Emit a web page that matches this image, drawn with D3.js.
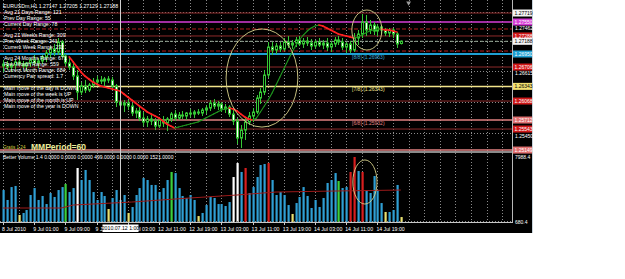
<!DOCTYPE html>
<html>
<head>
<meta charset="utf-8">
<script src="https://cdn.jsdelivr.net/npm/d3@7"></script>
<style>
body { margin: 0; background: #fff; }
svg { display: block; }
text { font-family: "Liberation Sans", Arial, sans-serif; }
</style>
</head>
<body>
<script>
// ---- data (EURUSDm, H1) ----
const opens = [1.26725,1.26762,1.26706,1.26744,1.26800,1.26762,1.26725,1.26781,1.26837,1.26781,
  1.26819,1.26894,1.26969,1.27044,1.26988,1.27175,1.26912,1.26781,1.26706,1.26537,
  1.26237,1.26350,1.26275,1.26368,1.26425,1.26462,1.26443,1.26481,1.26462,1.26350,
  1.26050,1.25993,1.26031,1.25974,1.25843,1.25881,1.25749,1.25674,1.25731,1.25693,
  1.25599,1.25712,1.25656,1.25731,1.25824,1.25749,1.25806,1.25787,1.25843,1.25824,
  1.25862,1.25843,1.25899,1.25937,1.26031,1.25974,1.26012,1.25918,1.25956,1.25824,
  1.25693,1.25374,1.25524,1.25674,1.25787,1.25862,1.26125,1.26237,1.26556,1.27081,
  1.27025,1.27100,1.27044,1.27175,1.27119,1.27156,1.27213,1.27138,1.27194,1.27156,
  1.27100,1.27175,1.27119,1.27156,1.27081,1.27138,1.27213,1.27175,1.27081,1.27138,
  1.27025,1.27250,1.27325,1.27550,1.27400,1.27494,1.27381,1.27457,1.27400,1.27344,
  1.27400,1.27325,1.27147]
const highs = [1.26837,1.26819,1.26800,1.26837,1.26856,1.26819,1.26800,1.26875,1.26931,1.26875,
  1.26931,1.27025,1.27100,1.27138,1.27250,1.27213,1.26950,1.26875,1.26781,1.26650,
  1.26425,1.26462,1.26406,1.26500,1.26537,1.26537,1.26519,1.26537,1.26519,1.26387,
  1.26162,1.26087,1.26087,1.26031,1.25937,1.25956,1.25862,1.25787,1.25806,1.25749,
  1.25749,1.25787,1.25768,1.25862,1.25899,1.25862,1.25881,1.25862,1.25918,1.25899,
  1.25918,1.25937,1.25993,1.26087,1.26106,1.26068,1.26050,1.26012,1.25993,1.25937,
  1.25749,1.25618,1.25749,1.25862,1.25937,1.26181,1.26312,1.26650,1.27175,1.27175,
  1.27156,1.27175,1.27250,1.27288,1.27213,1.27269,1.27288,1.27250,1.27269,1.27231,
  1.27213,1.27250,1.27213,1.27250,1.27194,1.27269,1.27288,1.27250,1.27175,1.27194,
  1.27344,1.27400,1.27700,1.27682,1.27588,1.27550,1.27513,1.27494,1.27438,1.27438,
  1.27438,1.27363,1.27205]
const lows = [1.26612,1.26650,1.26612,1.26669,1.26725,1.26687,1.26631,1.26706,1.26725,1.26687,
  1.26762,1.26800,1.26875,1.26912,1.26931,1.26875,1.26725,1.26650,1.26462,1.26087,
  1.26181,1.26218,1.26237,1.26312,1.26350,1.26387,1.26350,1.26406,1.26275,1.25956,
  1.25937,1.25862,1.25899,1.25787,1.25749,1.25693,1.25599,1.25581,1.25618,1.25524,
  1.25562,1.25581,1.25505,1.25674,1.25693,1.25712,1.25731,1.25712,1.25768,1.25749,
  1.25806,1.25787,1.25824,1.25881,1.25918,1.25899,1.25862,1.25843,1.25768,1.25618,
  1.25262,1.25187,1.25337,1.25618,1.25674,1.25824,1.26012,1.26181,1.26500,1.26931,
  1.26950,1.26988,1.27006,1.27063,1.27044,1.27081,1.27100,1.27063,1.27100,1.27025,
  1.27044,1.27081,1.27044,1.27006,1.26988,1.27081,1.27119,1.27025,1.26969,1.26969,
  1.26988,1.27119,1.27250,1.27288,1.27325,1.27306,1.27288,1.27325,1.27288,1.27269,
  1.27250,1.27063,1.27129]
const closes = [1.26762,1.26706,1.26744,1.26800,1.26762,1.26725,1.26781,1.26837,1.26781,1.26819,
  1.26894,1.26969,1.27044,1.26988,1.27175,1.26912,1.26781,1.26706,1.26537,1.26237,
  1.26350,1.26275,1.26368,1.26425,1.26462,1.26443,1.26481,1.26462,1.26350,1.26050,
  1.25993,1.26031,1.25974,1.25843,1.25881,1.25749,1.25674,1.25731,1.25693,1.25599,
  1.25712,1.25656,1.25731,1.25824,1.25749,1.25806,1.25787,1.25843,1.25824,1.25862,
  1.25843,1.25899,1.25937,1.26031,1.25974,1.26012,1.25918,1.25956,1.25824,1.25693,
  1.25374,1.25524,1.25674,1.25787,1.25862,1.26125,1.26237,1.26556,1.27081,1.27025,
  1.27100,1.27044,1.27175,1.27119,1.27156,1.27213,1.27138,1.27194,1.27156,1.27100,
  1.27175,1.27119,1.27156,1.27081,1.27138,1.27213,1.27175,1.27081,1.27138,1.27025,
  1.27250,1.27325,1.27550,1.27400,1.27494,1.27381,1.27457,1.27400,1.27344,1.27400,
  1.27325,1.27138,1.27188]

// moving average, starts at bar 17
const maStart = 17
const maValues = [1.26894,1.26800,1.26706,1.26612,1.26537,1.26481,1.26425,1.26387,1.26350,1.26331,
  1.26312,1.26293,1.26275,1.26256,1.26200,1.26143,1.26087,1.26031,1.25974,1.25918,
  1.25862,1.25824,1.25787,1.25749,1.25693,1.25637,1.25599,1.25562,1.25581,1.25599,
  1.25618,1.25637,1.25656,1.25674,1.25712,1.25749,1.25787,1.25824,1.25862,1.25899,
  1.25918,1.25937,1.25918,1.25881,1.25824,1.25768,1.25731,1.25712,1.25749,1.25862,
  1.25974,1.26087,1.26218,1.26368,1.26519,1.26669,1.26819,1.26969,1.27100,1.27213,
  1.27306,1.27381,1.27438,1.27475,1.27494,1.27475,1.27438,1.27400,1.27363,1.27325,
  1.27306,1.27288,1.27269,1.27250,1.27269,1.27306,1.27344,1.27381,1.27400,1.27419,
  1.27419,1.27400,1.27400,1.27381,1.27363]

// Better Volume
const volumes = [4220,3120,4550,4670,1460,1680,2010,3670,4440,3120,
  3560,2670,3890,3450,4220,4550,4890,4000,4440,6660,
  5330,6440,5330,4000,3120,4000,3560,2120,3340,4220,
  3120,3670,1680,2340,3670,4440,5550,5330,4780,4780,
  4000,4440,5330,6220,6100,4440,3560,3340,3670,3120,
  1340,1680,2560,3450,3340,2670,2670,2450,2890,5660,
  7210,6220,6660,3890,4550,5660,6990,7100,7210,5330,
  3670,4000,3670,2560,1570,2780,3450,4550,3560,2230,
  3120,2340,3340,5000,5330,6100,5220,4440,4550,6220,
  7880,6330,6220,4220,3890,5770,4220,2780,1790,1790,
  2010,4780,1230]
const lowVolBars = [4, 27, 32, 50, 74, 98, 102]
const climaxUpBars = [62, 68, 89, 90, 92]
const climaxDownBars = [19, 59, 60]
const churnBars = [16, 43, 86]
const volAvgBars = [0, 15, 18, 33, 48, 60, 70, 85, 102]
const volAvgValues = [2230, 2230, 2560, 2890, 3340, 3670, 4000, 4110, 4220]
const volMax = 7988.4
const volMin = 680.4

// time axis
const timeTickBars = [0, 8, 16, 24, 32, 40, 48, 56, 64, 72, 80, 88, 96]
const timeLabels = ['8 Jul 2010', '9 Jul 01:00', '9 Jul 09:00', '9 Jul 17:00', '12 Jul 03:00', '12 Jul 11:00',
  '12 Jul 19:00', '13 Jul 03:00', '13 Jul 11:00', '13 Jul 19:00', '14 Jul 03:00', '14 Jul 11:00', '14 Jul 19:00']
const crossBar = 30
const crossLabel = '2010.07.12 1:00'

// price axis
const priceTicks = [1.27719, 1.27168, 1.26615, 1.26035, 1.25450]
const extraPriceText = 1.27462

// horizontal levels
const levelPrices = [1.27719, 1.27550, 1.27419, 1.27288, 1.27188, 1.27006, 1.26950, 1.26706, 1.26343, 1.26068, 1.25712, 1.25543, 1.25149]
const levelKinds = ['top', 'mag', 'rdash', 'dr', 'bid', 'rdash', 'cyan', 'dr', 'yel', 'dr', 'pink', 'dr', 'pink']
const murreyNames = ['[8/8] (1.26953)', '[7/8] (1.26343)', '[6/8] (1.25932)']
const murreyPrices = [1.26950, 1.26343, 1.25712]

// info panel
const header = 'EURUSDm,H1  1.27147 1.27205 1.27129 1.27188'
const infoGroups = [
  ['Avg 21 Days Range: 121', 'Prev Day Range: 55', 'Current Day Range: 78'],
  ['Avg 21 Weeks Range: 309', 'Prev Week Range: 241', 'Current Week Range: 232'],
  ['Avg 24 Months Range: 671', 'Prev Month Range: 559', 'Current Month Range: 684', 'Currency Pair spread: 1.7'],
  ['Main move of the day is DOWN', 'Main move of the week is UP', 'Main move of the month is UP', 'Main move of the year is DOWN']
]
const volTitle = 'Better Volume 1.4 0.0000 0.0000 0.0000 499.0000 0.0000 0.0000 1521.0000'

// hand drawn ellipses: [centre bar, centre value, half width in bars, half height in value]
const priceEllipses = [[66.4, 1.26500, 9.2, 0.0092], [93.3, 1.27400, 3.85, 0.00375]]
const volEllipses = [[92.8, 5110, 3.1, 2440]]

// ---- layout ----
const w = 625
const h = 279
const blackW = 532
const blackH = 233
const plotR = 512
const mainB = 151
const volT = 153
const volB = 222

const svg = d3.select('body')
    .append('svg')
    .attr('width', w)
    .attr('height', h)

svg.append('rect').attr('width', blackW).attr('height', blackH).attr('fill', '#000')
svg.append('line').attr('x1', blackW + 0.5).attr('x2', blackW + 0.5).attr('y1', 0).attr('y2', blackH)
    .attr('stroke', '#c8d4dc')

const x = d3.scaleLinear().domain([0, 130]).range([3, 510])
const y = d3.scaleLinear().domain([1.27719, 1.25450]).range([13, 134])
const yv = d3.scaleLinear().domain([volMin, volMax]).range([volB, 156])
const px = i => Math.round(x(i)) + 0.5

svg.append('clipPath').attr('id', 'mainClip').append('rect')
    .attr('x', 0).attr('y', 0).attr('width', plotR).attr('height', mainB)
svg.append('clipPath').attr('id', 'volClip').append('rect')
    .attr('x', 0).attr('y', volT).attr('width', plotR).attr('height', volB - volT)

const main = svg.append('g').attr('clip-path', 'url(#mainClip)')
const vol = svg.append('g').attr('clip-path', 'url(#volClip)')

// grid
const gridBars = d3.range(0, 131, 4)
main.selectAll('.vg').data(gridBars).enter().append('line')
    .attr('x1', d => px(d)).attr('x2', d => px(d)).attr('y1', 0).attr('y2', mainB)
    .attr('stroke', '#8a8a8a').attr('stroke-dasharray', '1,2')
vol.selectAll('.vg').data(gridBars).enter().append('line')
    .attr('x1', d => px(d)).attr('x2', d => px(d)).attr('y1', volT).attr('y2', volB)
    .attr('stroke', '#8a8a8a').attr('stroke-dasharray', '1,2')
main.selectAll('.hg').data(priceTicks).enter().append('line')
    .attr('x1', 0).attr('x2', plotR).attr('y1', d => Math.round(y(d)) - 0.5).attr('y2', d => Math.round(y(d)) - 0.5)
    .attr('stroke', '#8a8a8a').attr('stroke-dasharray', '1,2')

// level lines
const levelStyle = {
  top: { c: '#8e2a2a', wd: 1, dash: null },
  dr: { c: '#8e2a2a', wd: 1, dash: null },
  mag: { c: '#d63cd6', wd: 1.6, dash: null },
  rdash: { c: '#b01e1e', wd: 1, dash: '4,2' },
  bid: { c: '#9aae9a', wd: 1, dash: '3,2' },
  cyan: { c: '#1e9fd2', wd: 2, dash: null },
  yel: { c: '#f2e48a', wd: 1.5, dash: null },
  pink: { c: '#e08080', wd: 1.5, dash: null }
}
main.selectAll('.lvl').data(levelPrices).enter().append('line')
    .attr('x1', 0).attr('x2', plotR)
    .attr('y1', d => y(d)).attr('y2', d => y(d))
    .attr('stroke', (d, i) => levelStyle[levelKinds[i]].c)
    .attr('stroke-width', (d, i) => levelStyle[levelKinds[i]].wd)
    .attr('stroke-dasharray', (d, i) => levelStyle[levelKinds[i]].dash)

// murrey labels
const murreyColors = ['#3aa8d8', '#f2e48a', '#e08080']
main.selectAll('.mm').data(murreyPrices).enter().append('text')
    .attr('x', x(89.5)).attr('y', d => y(d) + 4.5)
    .attr('font-size', 5).attr('fill', (d, i) => murreyColors[i])
    .text((d, i) => murreyNames[i])

// candles
const bars = d3.range(closes.length)
const green = '#36c836'
main.selectAll('.wick').data(bars).enter().append('line')
    .attr('x1', i => px(i)).attr('x2', i => px(i))
    .attr('y1', i => y(highs[i])).attr('y2', i => y(lows[i]))
    .attr('stroke', green)
main.selectAll('.body').data(bars).enter().append('rect')
    .attr('x', i => px(i) - 1).attr('width', 2)
    .attr('y', i => y(Math.max(opens[i], closes[i])))
    .attr('height', i => Math.max(0.6, Math.abs(y(opens[i]) - y(closes[i]))))
    .attr('fill', i => closes[i] >= opens[i] ? '#000' : '#fff')
    .attr('stroke', green).attr('stroke-width', 1)

// moving average coloured by slope
let prevUp = false
const maSegs = []
for (let k = 1; k < maValues.length; k++) {
  const a = maValues[k - 1], b = maValues[k]
  const up = b > a ? true : b < a ? false : prevUp
  prevUp = up
  maSegs.push({ i: maStart + k - 1, a: a, b: b, up: up })
}
main.selectAll('.ma').data(maSegs).enter().append('line')
    .attr('x1', d => x(d.i)).attr('x2', d => x(d.i + 1))
    .attr('y1', d => y(d.a)).attr('y2', d => y(d.b))
    .attr('stroke', d => d.up ? '#1f9a1f' : '#ff2222')
    .attr('stroke-width', d => d.up ? 1.1 : 1.7)
    .attr('stroke-linecap', 'round')

// ellipses
main.selectAll('.el').data(priceEllipses).enter().append('ellipse')
    .attr('cx', d => x(d[0])).attr('cy', d => y(d[1]))
    .attr('rx', d => x(d[2]) - x(0)).attr('ry', d => y(d[1] - d[3]) - y(d[1]))
    .attr('fill', 'none').attr('stroke', '#d9d38c').attr('stroke-width', 0.9)

// info text
const info = svg.append('g').attr('fill', '#fff').attr('font-size', 5.2)
info.append('text').attr('x', 3).attr('y', 8).text(header)
const groupTop = [12, 34.5, 58, 88]
infoGroups.forEach((g, gi) => {
  info.selectAll('.g' + gi).data(g).enter().append('text')
      .attr('x', 4).attr('y', (d, i) => groupTop[gi] + 2 + i * 6).text(d => d)
})
svg.append('text').attr('x', 3).attr('y', 148.5).attr('font-size', 4.6).attr('fill', '#d8d040').text('Gratis 1.24')
svg.append('text').attr('x', 31).attr('y', 149.5).attr('font-size', 8.5).attr('font-weight', 'bold')
    .attr('font-family', '"Liberation Mono", "DejaVu Sans Mono", monospace')
    .attr('fill', '#ecec9a').text('MMPeriod=60')

// panel separator
svg.append('line').attr('x1', 0).attr('x2', plotR).attr('y1', 152).attr('y2', 152)
    .attr('stroke', '#b8b8b8').attr('stroke-width', 1.6)

// volume bars
const volColor = i => lowVolBars.includes(i) ? '#e8e070'
    : climaxUpBars.includes(i) ? '#d81e1e'
    : climaxDownBars.includes(i) ? '#ffffff'
    : churnBars.includes(i) ? '#3ccf3c' : '#2f9fd4'
vol.selectAll('.vb').data(bars).enter().append('rect')
    .attr('x', i => Math.round(x(i)) - 0.5).attr('width', 2.2)
    .attr('y', i => yv(volumes[i])).attr('height', i => volB - yv(volumes[i]))
    .attr('fill', i => volColor(i))
vol.append('path')
    .datum(volAvgBars)
    .attr('d', d3.line().x(b => x(b)).y((b, k) => yv(volAvgValues[k])))
    .attr('fill', 'none').attr('stroke', '#9c1a1a').attr('stroke-width', 1)
vol.selectAll('.ve').data(volEllipses).enter().append('ellipse')
    .attr('cx', d => x(d[0])).attr('cy', d => yv(d[1]))
    .attr('rx', d => x(d[2]) - x(0)).attr('ry', d => yv(d[1]) - yv(d[1] + d[3]))
    .attr('fill', 'none').attr('stroke', '#d9d38c').attr('stroke-width', 0.9)
vol.append('line').attr('x1', 0).attr('x2', plotR).attr('y1', volB - 0.5).attr('y2', volB - 0.5)
    .attr('stroke', '#8a8a8a').attr('stroke-dasharray', '1,2')
svg.append('text').attr('x', 3).attr('y', 159).attr('font-size', 5).attr('fill', '#fff').text(volTitle)

// crosshair
svg.append('line').attr('x1', px(crossBar)).attr('x2', px(crossBar)).attr('y1', 0).attr('y2', volB)
    .attr('stroke', '#d0d0d0')

// shift marker
svg.append('path')
    .attr('d', d3.symbol().type(d3.symbolTriangle).size(10))
    .attr('transform', `translate(${x(closes.length + 1)},3) rotate(180)`)
    .attr('fill', '#9a9a9a')

// chart frame
svg.append('line').attr('x1', plotR + 0.5).attr('x2', plotR + 0.5).attr('y1', 0).attr('y2', volB)
    .attr('stroke', '#b8b8b8')
svg.append('line').attr('x1', 0).attr('x2', plotR + 1).attr('y1', volB + 0.5).attr('y2', volB + 0.5)
    .attr('stroke', '#c8c8c8')

// time axis
const axisG = svg.append('g')
axisG.selectAll('.tk').data(timeTickBars).enter().append('line')
    .attr('x1', d => px(d)).attr('x2', d => px(d)).attr('y1', volB).attr('y2', volB + 3)
    .attr('stroke', '#c8c8c8')
axisG.selectAll('.tl').data(timeTickBars).enter().append('text')
    .attr('x', d => x(d) - 1).attr('y', 230.5)
    .attr('font-size', 5.2).attr('fill', '#fff')
    .text((d, i) => timeLabels[i])
axisG.append('rect').attr('x', px(crossBar) - 18).attr('y', 224.5).attr('width', 36).attr('height', 7.5)
    .attr('fill', '#fff')
axisG.append('text').attr('x', px(crossBar)).attr('y', 230.3).attr('text-anchor', 'middle')
    .attr('font-size', 5.2).attr('fill', '#000').text(crossLabel)

// right price scale
const fmt = d3.format('.5f')
const scaleG = svg.append('g').attr('font-size', 5)
const boxFill = { top: '#f4f4f4', dr: '#d01818', mag: '#d63cd6', bid: '#f4f4f4', cyan: '#1e9fd2', yel: '#f2e070', pink: '#e07070' }
const boxText = { top: '#000', bid: '#000', yel: '#000' }
const boxed = levelPrices.map((p, i) => ({ p: p, k: levelKinds[i] }))
    .filter(d => d.k !== 'rdash')
// tick texts that would sit under a level box are left to the box
const tickTexts = priceTicks.concat([extraPriceText])
    .filter(t => !boxed.some(b => Math.abs(y(b.p) - y(t)) < 3))
scaleG.selectAll('.pt').data(tickTexts).enter().append('text')
    .attr('x', plotR + 3).attr('y', d => y(d) + 3.5).attr('fill', '#fff').text(d => fmt(d))
scaleG.selectAll('.bx').data(boxed).enter().append('rect')
    .attr('x', plotR + 1).attr('y', d => y(d.p) - 3.5).attr('width', 19).attr('height', 7)
    .attr('fill', d => boxFill[d.k])
scaleG.selectAll('.bt').data(boxed).enter().append('text')
    .attr('x', plotR + 2.5).attr('y', d => y(d.p) + 1.8)
    .attr('fill', d => boxText[d.k] || '#fff').text(d => fmt(d.p))
scaleG.append('text').attr('x', plotR + 3).attr('y', yv(volMax) + 2.5).attr('fill', '#fff').text(volMax.toFixed(1))
scaleG.append('text').attr('x', plotR + 3).attr('y', yv(volMin) + 1.5).attr('fill', '#fff').text(volMin.toFixed(1))
</script>
</body>
</html>
